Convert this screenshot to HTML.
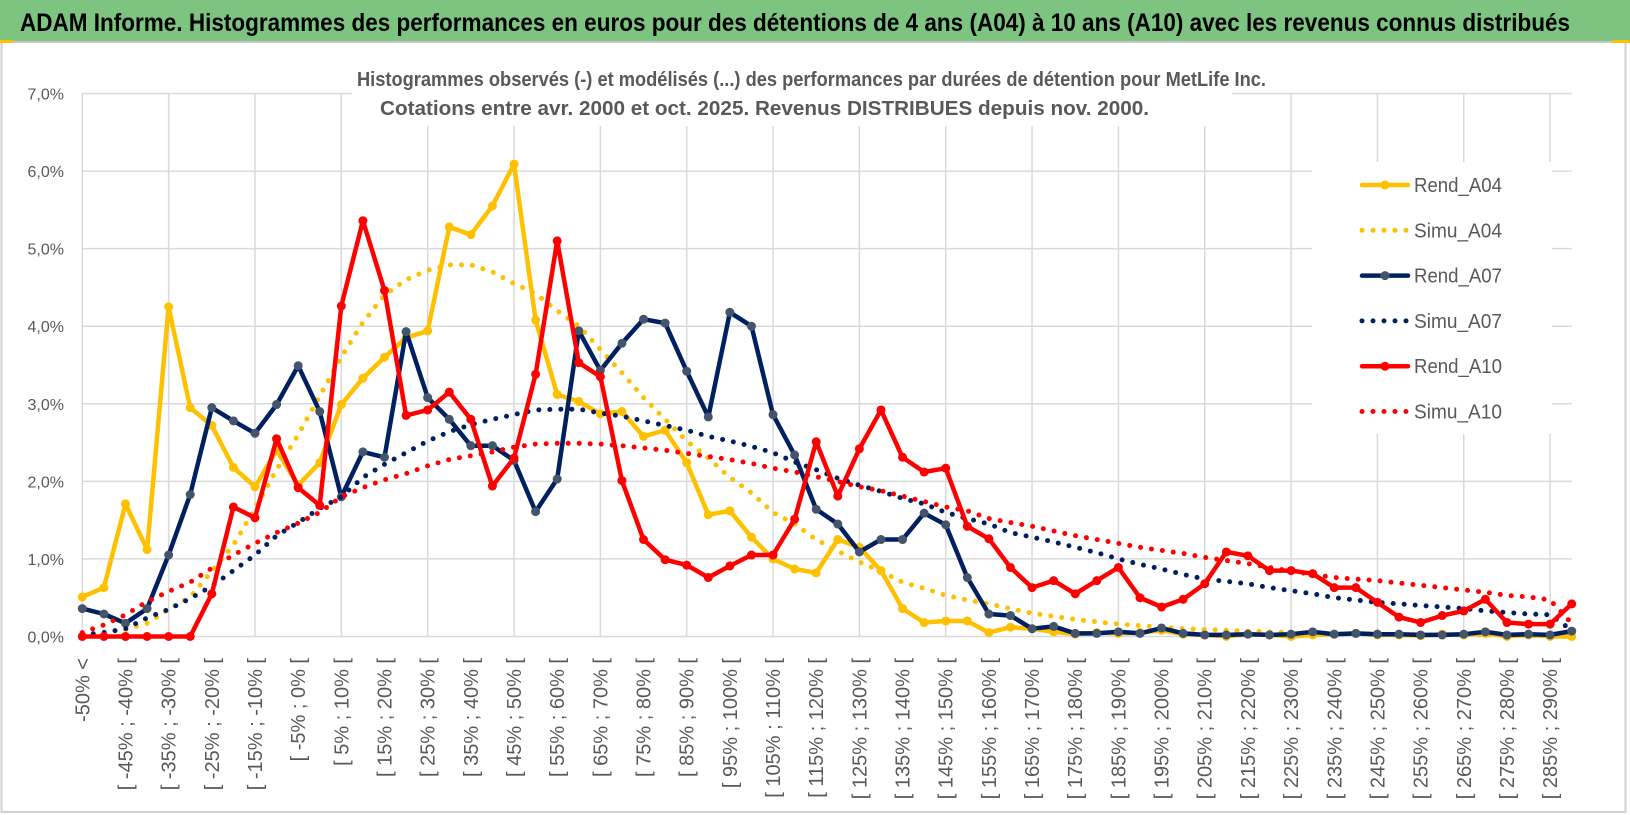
<!DOCTYPE html>
<html><head><meta charset="utf-8"><style>
html,body{margin:0;padding:0;background:#fff;}
svg{display:block;font-family:"Liberation Sans",sans-serif;}
</style></head><body>
<svg id="chart" width="1630" height="815" viewBox="0 0 1630 815" xmlns="http://www.w3.org/2000/svg">
<rect x="0" y="0" width="1630" height="815" fill="#fff"/>
<rect x="1.5" y="41" width="1624" height="771" fill="none" stroke="#d0d0d0" stroke-width="2"/>
<rect x="0" y="0" width="1630" height="41" fill="#7cc47f"/>
<line x1="0" y1="42" x2="1630" y2="42" stroke="#c8c8c8" stroke-width="2"/>
<rect x="0" y="40" width="13" height="3" fill="#ffc000"/>
<rect x="1612" y="40" width="18" height="3" fill="#ffc000"/>
<text x="20" y="31" font-size="25" font-weight="bold" fill="#000" textLength="1550" lengthAdjust="spacingAndGlyphs">ADAM Informe. Histogrammes des performances en euros pour des détentions de 4 ans (A04) à 10 ans (A10) avec les revenus connus distribués</text>
<g id="grid"></g>
<g id="yticks"></g>
<g id="xticks"></g>
<rect x="352" y="58" width="880" height="68" fill="#fff"/>
<text x="357" y="86" font-size="20" font-weight="bold" fill="#595959" textLength="909" lengthAdjust="spacingAndGlyphs">Histogrammes observés (-) et modélisés (...) des performances par durées de détention pour MetLife Inc.</text>
<text x="380" y="115" font-size="20" font-weight="bold" fill="#595959" textLength="769" lengthAdjust="spacingAndGlyphs">Cotations entre avr. 2000 et oct. 2025.  Revenus DISTRIBUES depuis nov. 2000.</text>
<g id="series"></g>
<g id="legend"></g>
</svg>
<script>
const categoriesCount = 70;
const yTicks = [0,1,2,3,4,5,6,7];
const rend04 = [0.51,0.63,1.71,1.12,4.25,2.95,2.72,2.18,1.93,2.4,1.95,2.24,2.99,3.33,3.6,3.85,3.94,5.28,5.18,5.55,6.09,4.08,3.12,3.03,2.87,2.9,2.58,2.66,2.24,1.57,1.62,1.28,1.0,0.87,0.82,1.25,1.15,0.85,0.36,0.18,0.2,0.2,0.05,0.12,0.1,0.06,0.03,0.05,0.04,0.05,0.08,0.03,0.02,0.0,0.03,0.02,0.0,0.02,0.03,0.04,0.02,0.02,0.01,0.03,0.02,0.04,0.0,0.02,0.0,0.0];
const simu04 = [0.02,0.05,0.09,0.17,0.35,0.51,0.84,1.18,1.65,2.15,2.6,3.1,3.6,4.05,4.4,4.6,4.72,4.79,4.79,4.7,4.55,4.42,4.2,4.0,3.7,3.4,3.08,2.8,2.52,2.3,2.05,1.85,1.6,1.45,1.25,1.1,0.96,0.84,0.7,0.62,0.53,0.47,0.42,0.36,0.3,0.26,0.22,0.19,0.16,0.14,0.12,0.1,0.09,0.08,0.07,0.06,0.05,0.04,0.04,0.03,0.03,0.03,0.02,0.02,0.02,0.02,0.02,0.01,0.01,0.01];
const rend07 = [0.36,0.29,0.17,0.36,1.05,1.83,2.95,2.78,2.62,2.99,3.49,2.9,1.8,2.38,2.31,3.93,3.08,2.8,2.46,2.46,2.27,1.61,2.03,3.94,3.43,3.78,4.09,4.04,3.42,2.83,4.18,4.0,2.86,2.34,1.64,1.45,1.09,1.25,1.25,1.59,1.44,0.76,0.29,0.27,0.1,0.13,0.04,0.04,0.06,0.04,0.11,0.04,0.02,0.02,0.03,0.02,0.03,0.06,0.03,0.04,0.03,0.03,0.02,0.02,0.03,0.06,0.02,0.03,0.02,0.07];
const simu07 = [0.02,0.05,0.1,0.24,0.35,0.49,0.65,0.85,1.05,1.3,1.47,1.65,1.8,2.05,2.22,2.37,2.52,2.64,2.73,2.8,2.86,2.92,2.93,2.93,2.88,2.84,2.78,2.72,2.66,2.58,2.52,2.45,2.37,2.25,2.15,2.04,1.95,1.87,1.78,1.71,1.6,1.52,1.45,1.34,1.28,1.22,1.15,1.08,1.0,0.93,0.87,0.8,0.74,0.71,0.68,0.63,0.59,0.55,0.5,0.47,0.44,0.42,0.4,0.38,0.36,0.33,0.31,0.29,0.28,0.08];
const rend10 = [0,0,0,0,0,0,0.55,1.67,1.53,2.55,1.92,1.69,4.26,5.36,4.46,2.85,2.92,3.15,2.8,1.94,2.3,3.38,5.1,3.53,3.35,2.01,1.25,0.99,0.92,0.76,0.91,1.05,1.05,1.51,2.51,1.81,2.42,2.92,2.31,2.12,2.17,1.42,1.26,0.89,0.63,0.72,0.55,0.72,0.89,0.5,0.38,0.48,0.68,1.09,1.04,0.85,0.85,0.81,0.63,0.63,0.44,0.25,0.18,0.27,0.33,0.48,0.18,0.16,0.16,0.42];
const simu10 = [0.05,0.15,0.28,0.45,0.58,0.7,0.88,1.05,1.2,1.34,1.46,1.6,1.8,1.92,2.02,2.1,2.2,2.28,2.33,2.38,2.44,2.48,2.49,2.49,2.48,2.46,2.43,2.4,2.36,2.32,2.28,2.23,2.17,2.12,2.06,2.0,1.93,1.88,1.81,1.74,1.67,1.62,1.52,1.47,1.42,1.36,1.3,1.25,1.2,1.15,1.11,1.07,1.02,0.98,0.94,0.89,0.84,0.8,0.76,0.74,0.72,0.69,0.66,0.63,0.6,0.57,0.53,0.51,0.47,0.17];
const legendLabels = ["Rend_A04","Simu_A04","Rend_A07","Simu_A07","Rend_A10","Simu_A10"];

const NS = "http://www.w3.org/2000/svg";
const X0 = 82.3, X1 = 1571.7, Y0 = 636.5, Y7 = 93.5;
function xPos(i){ return X0 + (X1 - X0) * i / (categoriesCount - 1); }
function yPos(v){ return Y0 - (Y0 - Y7) * v / 7; }
function mk(tag, attrs, parent){ const e = document.createElementNS(NS, tag); for (const k in attrs) e.setAttribute(k, attrs[k]); parent.appendChild(e); return e; }
function catLabel(i){ if (i === 0) return "-50% <"; const a = -55 + 5*i, b = -50 + 5*i; return "[ " + a + "% ; " + b + "% ["; }

const grid = document.getElementById('grid');
yTicks.forEach(t => {
  const l = mk('line', {x1: X0, x2: X1, y1: yPos(t), y2: yPos(t), stroke: '#d9d9d9', 'stroke-width': 1.5}, grid);
  
  
  const tx = mk('text', {x: 64, y: yPos(t) + 6, 'font-size': 16, fill: '#595959', 'text-anchor': 'end'}, document.getElementById('yticks'));
  tx.textContent = t.toFixed(1).replace('.', ',') + '%';
  
  
});
for (let i = 0; i < categoriesCount; i += 4) {
  const l = mk('line', {x1: xPos(i), x2: xPos(i), y1: Y7, y2: Y0, stroke: '#d9d9d9', 'stroke-width': 1.5}, grid);
  
  
}
for (let i = 0; i < categoriesCount; i += 2) {
  const x = xPos(i) + 7, y = 658;
  const tx = mk('text', {x: x, y: y, 'font-size': 20, fill: '#595959', 'text-anchor': 'end', transform: 'rotate(-90 ' + x + ' ' + y + ')'}, document.getElementById('xticks'));
  tx.textContent = catLabel(i);
  
  
}

const seriesG = document.getElementById('series');
function pathFor(arr){ return arr.map((v, i) => (i ? 'L' : 'M') + xPos(i).toFixed(1) + ' ' + yPos(v).toFixed(1)).join(' '); }
function solid(arr, color, mcolor, name){
  const g = mk('g', {}, seriesG);
  
  
  const p = mk('path', {d: pathFor(arr), fill: 'none', stroke: color, 'stroke-width': 4.5, 'stroke-linejoin': 'round', 'stroke-linecap': 'round'}, g);
  
  
  arr.forEach((v, i) => {
    const c = mk('circle', {cx: xPos(i), cy: yPos(v), r: 4.5, fill: mcolor}, g);
    
    
  });
}
function dotted(arr, color, name){
  const p = mk('path', {d: pathFor(arr), fill: 'none', stroke: color, 'stroke-width': 5, 'stroke-dasharray': '0 11', 'stroke-linecap': 'round'}, seriesG);
  
  
}
solid(rend04, '#ffc000', '#ffc000', 'rend-a04');
dotted(simu04, '#ffc000', 'simu-a04');
solid(rend07, '#002060', '#44546a', 'rend-a07');
dotted(simu07, '#002060', 'simu-a07');
solid(rend10, '#ff0000', '#ff0000', 'rend-a10');
dotted(simu10, '#ff0000', 'simu-a10');

const lg = document.getElementById('legend');
mk('rect', {x: 1312, y: 162, width: 240, height: 272, fill: '#fff'}, lg);
const legendColors = ['#ffc000','#ffc000','#002060','#002060','#ff0000','#ff0000'];
const legendMarker = ['#ffc000',null,'#44546a',null,'#ff0000',null];
legendLabels.forEach((lab, k) => {
  const y = 185 + k * 45.3;
  if (legendMarker[k]) {
    const l = mk('line', {x1: 1362, x2: 1408, y1: y, y2: y, stroke: legendColors[k], 'stroke-width': 4.5, 'stroke-linecap': 'round'}, lg);
    
    
    const c = mk('circle', {cx: 1385, cy: y, r: 4.5, fill: legendMarker[k]}, lg);
    
    
  } else {
    const l = mk('line', {x1: 1362, x2: 1410, y1: y, y2: y, stroke: legendColors[k], 'stroke-width': 5, 'stroke-dasharray': '0 11', 'stroke-linecap': 'round'}, lg);
    
    
  }
  const t = mk('text', {x: 1414, y: y + 7, 'font-size': 20, fill: '#595959', textLength: 88, lengthAdjust: 'spacingAndGlyphs'}, lg);
  t.textContent = lab;
  
  
});
</script>
</body></html>
